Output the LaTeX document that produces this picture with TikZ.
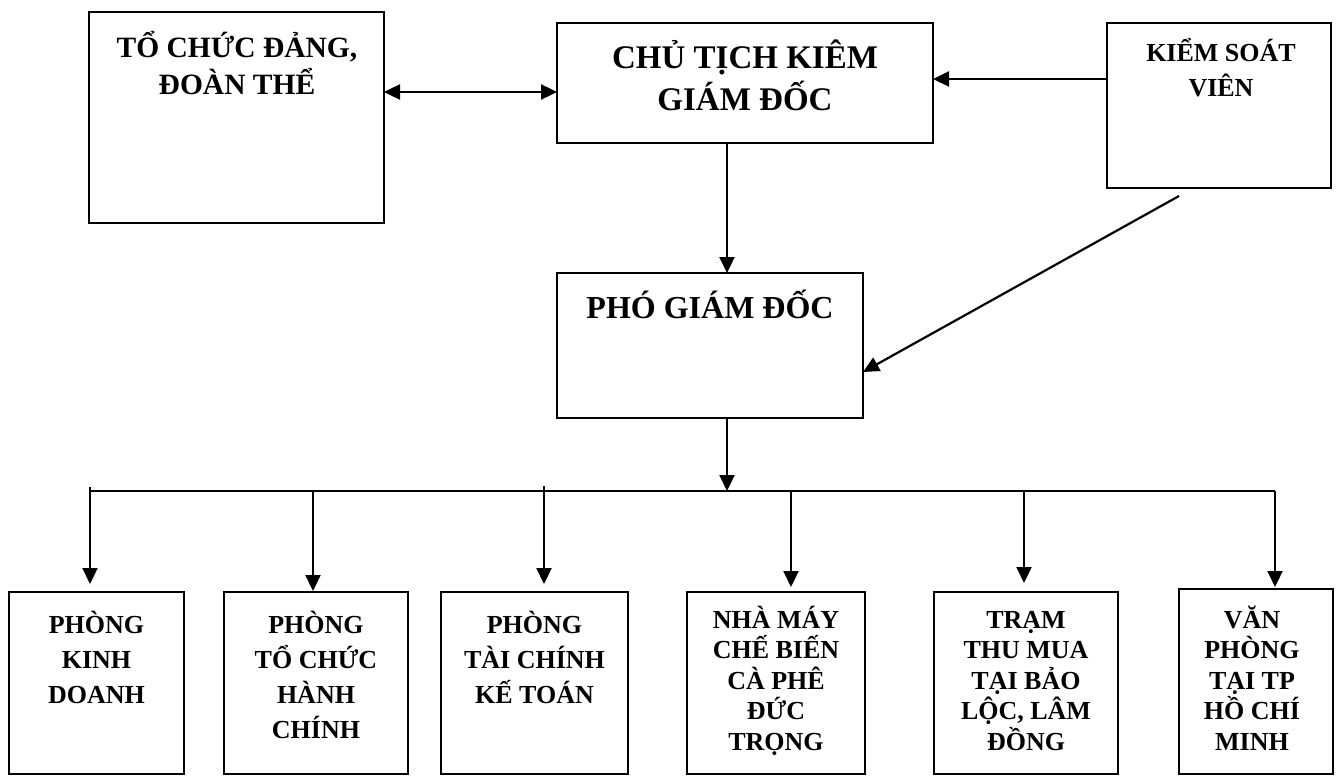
\documentclass[tikz,border=0pt]{standalone}
\usepackage{fontspec}
\setmainfont{Liberation Serif}
\usetikzlibrary{arrows.meta,calc}
\newcommand\ml[3]{\fontsize{#1}{#2}\selectfont\bfseries\vtop{\lineskiplimit=-100pt\halign{\hfil##\hfil\cr#3\crcr}}}
\begin{document}
\begin{tikzpicture}[x=1pt,y=-1pt,
  box/.style={draw, line width=2pt, inner sep=0pt, outer sep=0pt, anchor=north west},
  lbl/.style={anchor=base, inner sep=0pt, outer sep=0pt},
  con/.style={line width=2.2pt, -{Triangle[length=16pt,width=15pt]}},
  dbl/.style={line width=2.4pt, {Triangle[length=16pt,width=15pt]}-{Triangle[length=16pt,width=15pt]}},
  ln/.style={line width=2.2pt}]
\path[fill=white, use as bounding box] (0,0) rectangle (1338,776);

% boxes
\node[box, minimum width=295pt, minimum height=211pt] (A) at (89,12) {};
\node[box, minimum width=376pt, minimum height=120pt] (B) at (557,23) {};
\node[box, minimum width=224pt, minimum height=165pt] (C) at (1107,23) {};
\node[box, minimum width=306pt, minimum height=145pt] (D) at (557,273) {};
\node[box, minimum width=175pt, minimum height=182pt] (b1) at (9,592) {};
\node[box, minimum width=184pt, minimum height=182pt] (b2) at (224,592) {};
\node[box, minimum width=187pt, minimum height=182pt] (b3) at (441,592) {};
\node[box, minimum width=178pt, minimum height=182pt] (b4) at (687,592) {};
\node[box, minimum width=184pt, minimum height=182pt] (b5) at (934,592) {};
\node[box, minimum width=154pt, minimum height=185pt] (b6) at (1179,589) {};

% labels
\node[lbl] (tA) at (237,58) {\ml{29.5}{36}{TỔ CHỨC ĐẢNG,\cr ĐOÀN THỂ}};
\node[lbl] (tB) at (745,69) {\ml{33}{41}{CHỦ TỊCH KIÊM\cr GIÁM ĐỐC}};
\node[lbl] (tC) at (1221,62) {\ml{26}{35}{KIỂM SOÁT\cr VIÊN}};
\node[lbl] (tD) at (710,318) {\ml{32}{38}{PHÓ GIÁM ĐỐC}};
\node[lbl] (t1) at (96.5,633) {\ml{26}{35}{PHÒNG\cr KINH\cr DOANH}};
\node[lbl] (t2) at (316,633) {\ml{26}{35}{PHÒNG\cr TỔ CHỨC\cr HÀNH\cr CHÍNH}};
\node[lbl] (t3) at (534.5,633) {\ml{26}{35}{PHÒNG\cr TÀI CHÍNH\cr KẾ TOÁN}};
\node[lbl] (t4) at (776,628) {\ml{26}{30.5}{NHÀ MÁY\cr CHẾ BIẾN\cr CÀ PHÊ\cr ĐỨC\cr TRỌNG}};
\node[lbl] (t5) at (1026,628) {\ml{26}{30.5}{TRẠM\cr THU MUA\cr TẠI BẢO\cr LỘC, LÂM\cr ĐỒNG}};
\node[lbl] (t6) at (1252,628) {\ml{26}{30.5}{VĂN\cr PHÒNG\cr TẠI TP\cr HỒ CHÍ\cr MINH}};

% connectors
\coordinate (yAB) at (0,92);
\draw[dbl] (A.east |- yAB) -- (B.west |- yAB);
\coordinate (yCB) at (0,79);
\draw[con] (C.west |- yCB) -- (B.east |- yCB);
\coordinate (vx) at (727,0);
\draw[con] (B.south -| vx) -- (D.north -| vx);
\coordinate (ks) at (1179,196);
\coordinate (yKD) at (0,372);
\draw[con] (ks) -- (D.east |- yKD);

\coordinate (busL) at (90,491);
\coordinate (busR) at (1275,491);
\draw[con] (D.south -| vx) -- (vx |- busL);
\draw[ln] (busL) -- (busR);

\coordinate (d1) at (90,487);
\coordinate (d2) at (313,491);
\coordinate (d3) at (544,486);
\coordinate (d4) at (791,491);
\coordinate (d5) at (1024,491);
\coordinate (d6) at (1275,491);
\draw[con, shorten >=8pt] (d1) -- (b1.north -| d1);
\draw[con, shorten >=1pt] (d2) -- (b2.north -| d2);
\draw[con, shorten >=8pt] (d3) -- (b3.north -| d3);
\draw[con, shorten >=5pt] (d4) -- (b4.north -| d4);
\draw[con, shorten >=9pt] (d5) -- (b5.north -| d5);
\draw[con, shorten >=2pt] (d6) -- (b6.north -| d6);
\end{tikzpicture}
\end{document}
